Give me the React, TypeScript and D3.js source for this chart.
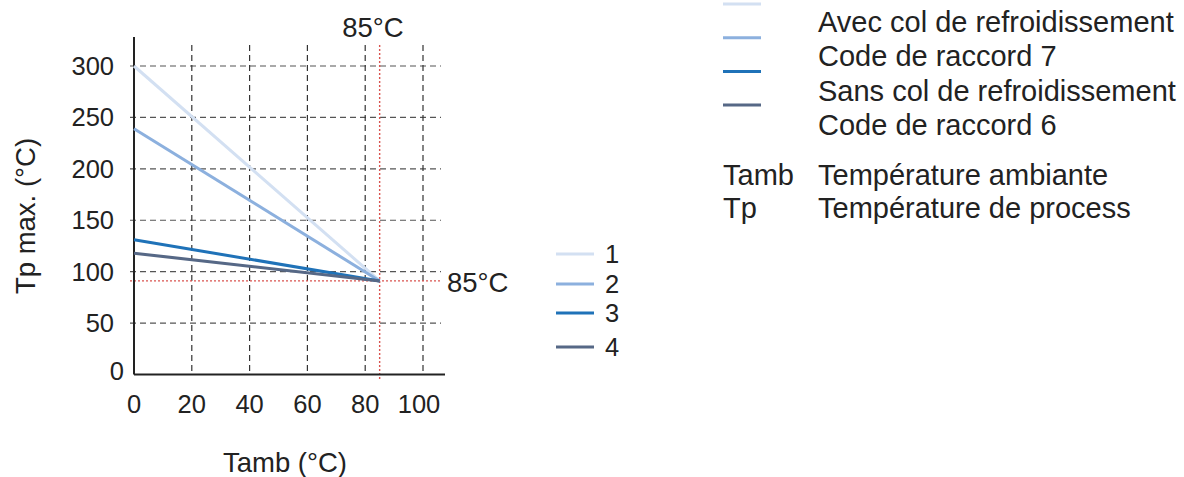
import React from "react";
import * as d3 from "d3";

const xTicks = [0, 20, 40, 60, 80, 100];
const yTicks = [0, 50, 100, 150, 200, 250, 300];
const seriesNames = ["1", "2", "3", "4"];
const seriesColors = ["#d3e0f2", "#8cb0de", "#1f72b8", "#566886"];
const tambPoints = [0, 85];
const series1 = [300, 91];
const series2 = [239, 91];
const series3 = [131, 91];
const series4 = [118, 91];
const refTamb = 85;
const refTp = 91;
const legendLabels = [
  "Avec col de refroidissement",
  "Code de raccord 7",
  "Sans col de refroidissement",
  "Code de raccord 6",
];
const abbrevKeys = ["Tamb", "Tp"];
const abbrevTexts = ["Température ambiante", "Température de process"];

const FONT = "'Liberation Sans', Arial, Helvetica, sans-serif";

export default function App() {
  const W = 1184;
  const H = 477;
  const x = d3.scaleLinear().domain([0, 100]).range([134, 423]);
  const y = d3.scaleLinear().domain([0, 300]).range([374.5, 66]);
  const allSeries = [series1, series2, series3, series4];
  const line = d3
    .line<[number, number]>()
    .x((d) => x(d[0]))
    .y((d) => y(d[1]));
  const fsTick = 25.5;
  const fsTitle = 27.5;
  const fsLeg = 29;

  return (
    <svg
      width={W}
      height={H}
      style={{ position: "absolute", left: 0, top: 0, background: "#fff" }}
      fontFamily={FONT}
    >
      {/* grid */}
      {yTicks
        .filter((v) => v > 0)
        .map((v) => (
          <line
            key={"gy" + v}
            x1={130}
            x2={441}
            y1={y(v)}
            y2={y(v)}
            stroke="#555"
            strokeWidth={1.2}
            strokeDasharray="6,4"
          />
        ))}
      {xTicks
        .filter((v) => v > 0)
        .map((v) => (
          <line
            key={"gx" + v}
            x1={x(v)}
            x2={x(v)}
            y1={45}
            y2={y(0)}
            stroke="#333"
            strokeWidth={1.2}
            strokeDasharray="6,4"
          />
        ))}
      {/* red reference lines */}
      <line
        x1={x(refTamb)}
        x2={x(refTamb)}
        y1={45}
        y2={380}
        stroke="#d9534f"
        strokeWidth={1.4}
        strokeDasharray="2,2"
      />
      <line
        x1={130}
        x2={441}
        y1={y(refTp)}
        y2={y(refTp)}
        stroke="#d9534f"
        strokeWidth={1.4}
        strokeDasharray="2,2"
      />
      {/* axes */}
      <line x1={x(0)} x2={x(0)} y1={37} y2={y(0)} stroke="#222" strokeWidth={2} />
      <line x1={x(0)} x2={445} y1={y(0)} y2={y(0)} stroke="#222" strokeWidth={2} />
      {/* series */}
      {allSeries.map((s, i) => (
        <path
          key={"s" + i}
          d={line(tambPoints.map((t, j) => [t, s[j]] as [number, number])) || ""}
          fill="none"
          stroke={seriesColors[i]}
          strokeWidth={3}
        />
      ))}
      {/* tick labels */}
      {yTicks.map((v) => (
        <text
          key={"yl" + v}
          x={v === 0 ? 124 : 114}
          y={v === 0 ? y(v) - 3 : y(v)}
          dy="0.35em"
          textAnchor="end"
          fontSize={fsTick}
          fill="#222"
        >
          {v}
        </text>
      ))}
      {xTicks.map((v) => (
        <text
          key={"xl" + v}
          x={v === 100 ? x(v) - 4 : x(v)}
          y={404}
          dy="0.35em"
          textAnchor="middle"
          fontSize={fsTick}
          fill="#222"
        >
          {v}
        </text>
      ))}
      {/* axis titles */}
      <text
        transform={`translate(35,${216}) rotate(-90)`}
        textAnchor="middle"
        fontSize={fsTitle}
        fill="#222"
      >
        Tp max. (°C)
      </text>
      <text x={285} y={462} dy="0.35em" textAnchor="middle" fontSize={fsTitle} fill="#222">
        Tamb (°C)
      </text>
      {/* 85°C labels */}
      <text x={373} y={27} dy="0.35em" textAnchor="middle" fontSize={fsTitle} fill="#222">
        85°C
      </text>
      <text x={447} y={282} dy="0.35em" textAnchor="start" fontSize={fsTitle} fill="#222">
        85°C
      </text>
      {/* numbered legend */}
      {seriesNames.map((n, i) => {
        const ly = [254, 284, 313, 347][i];
        return (
          <g key={"ln" + n}>
            <line x1={556} x2={594} y1={ly} y2={ly} stroke={seriesColors[i]} strokeWidth={3} />
            <text x={605} y={ly} dy="0.35em" fontSize={fsTick} fill="#222">
              {n}
            </text>
          </g>
        );
      })}
      {/* top-right legend */}
      {seriesColors.map((c, i) => {
        const ly = 4 + i * 33.7;
        return <line key={"tl" + i} x1={723} x2={761} y1={ly} y2={ly} stroke={c} strokeWidth={3} />;
      })}
      {legendLabels.map((t, i) => (
        <text key={"tt" + i} x={818} y={22 + i * 34.3} dy="0.35em" fontSize={fsLeg} fill="#222">
          {t}
        </text>
      ))}
      {abbrevKeys.map((k, i) => (
        <g key={"ab" + k}>
          <text x={723} y={175 + i * 33} dy="0.35em" fontSize={fsLeg} fill="#222">
            {k}
          </text>
          <text x={818} y={175 + i * 33} dy="0.35em" fontSize={fsLeg} fill="#222">
            {abbrevTexts[i]}
          </text>
        </g>
      ))}
    </svg>
  );
}
